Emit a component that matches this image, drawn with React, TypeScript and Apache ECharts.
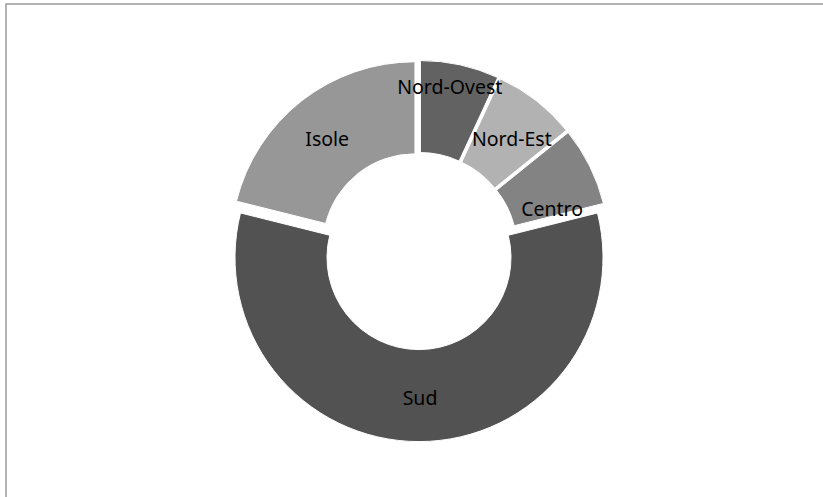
import React, { useEffect, useRef } from "react";
import * as echarts from "echarts";

const categories = ["Nord-Ovest", "Nord-Est", "Centro", "Sud", "Isole"];
const values = [6.9, 7.3, 6.9, 57.8, 21.1];
const colors = ["#626262", "#b2b2b2", "#838383", "#525252", "#979797"];
const labelShift = [
  [-1, -20],
  [2, 4],
  [1, 23],
  [1, -1],
  [-1, 4],
];

export default function App() {
  const ref = useRef<HTMLDivElement>(null);
  useEffect(() => {
    if (!ref.current) return;
    const chart = echarts.init(ref.current, null, { renderer: "svg" });
    chart.setOption({
      animation: false,
      backgroundColor: "#ffffff",
      graphic: [
        {
          type: "rect",
          shape: { x: 6, y: 4, width: 840, height: 520 },
          style: { fill: "none", stroke: "#9a9a9a", lineWidth: 1.5 },
          silent: true,
        },
      ],
      series: [
        {
          type: "pie",
          center: [419, 251],
          radius: [92, 184],
          startAngle: 90,
          clockwise: true,
          selectedMode: "multiple",
          selectedOffset: 6.6,
          avoidLabelOverlap: false,
          itemStyle: { borderColor: "#ffffff", borderWidth: 1 },
          label: {
            show: true,
            position: "inside",
            color: "#000000",
            fontFamily: "Noto Sans",
            fontSize: 19.5,
          },
          labelLine: { show: false },
          labelLayout: (p: any) => ({
            dx: labelShift[p.dataIndex][0],
            dy: labelShift[p.dataIndex][1],
          }),
          emphasis: { disabled: true },
          select: { itemStyle: { borderColor: "#ffffff", borderWidth: 1 } },
          data: categories.map((name, i) => ({
            name,
            value: values[i],
            selected: true,
            itemStyle: { color: colors[i] },
            select: { itemStyle: { color: colors[i] } },
          })),
        },
      ],
    });
    return () => chart.dispose();
  }, []);
  return (
    <div
      ref={ref}
      style={{ position: "fixed", left: 0, top: 0, width: 823, height: 497 }}
    />
  );
}
